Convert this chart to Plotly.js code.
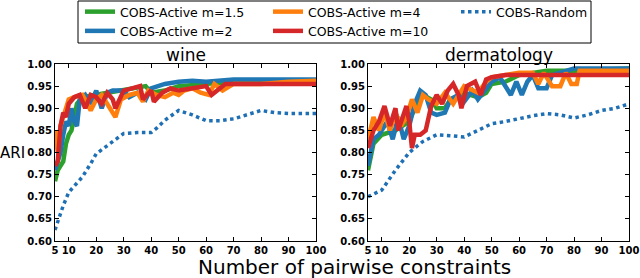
<!DOCTYPE html>
<html>
<head>
<meta charset="utf-8">
<script src="https://cdn.plot.ly/plotly-3.0.1.min.js"></script>
<style>html,body{margin:0;padding:0;background:#fff;}#chart{width:640px;height:278px;}</style>
</head>
<body>
<div id="chart"></div>
<script>
// ---- data ----
const xTicks = [5, 10, 20, 30, 40, 50, 60, 70, 80, 90, 100];
const yTicks = [0.60, 0.65, 0.70, 0.75, 0.80, 0.85, 0.90, 0.95, 1.00];
const seriesNames = ["COBS-Active m=1.5", "COBS-Active m=2", "COBS-Active m=4", "COBS-Active m=10", "COBS-Random"];
const panelTitles = ["wine", "dermatology"];

// wine
const wineGreenX = [5, 6, 7, 8, 9, 10, 11, 12, 13, 15, 20, 25, 30, 35, 38, 40, 45, 50, 60, 70, 100];
const wineGreenY = [0.735, 0.76, 0.77, 0.78, 0.82, 0.84, 0.85, 0.88, 0.91, 0.925, 0.93, 0.935, 0.94, 0.945, 0.95, 0.935, 0.94, 0.95, 0.955, 0.96, 0.962];
const wineBlueX = [5, 7, 8, 9, 10, 11, 12, 13, 14, 16, 18, 20, 22, 24, 26, 30, 32, 35, 38, 40, 45, 50, 55, 60, 70, 100];
const wineBlueY = [0.76, 0.80, 0.84, 0.87, 0.86, 0.90, 0.87, 0.86, 0.92, 0.93, 0.91, 0.94, 0.90, 0.935, 0.94, 0.94, 0.925, 0.935, 0.92, 0.945, 0.955, 0.96, 0.962, 0.96, 0.965, 0.965];
const wineOrangeX = [5, 6, 7, 8, 10, 12, 15, 18, 20, 22, 25, 27, 29, 32, 35, 37, 39, 42, 45, 48, 50, 52, 55, 58, 61, 63, 66, 70, 80, 90, 100];
const wineOrangeY = [0.85, 0.80, 0.86, 0.88, 0.92, 0.925, 0.93, 0.895, 0.92, 0.93, 0.90, 0.88, 0.92, 0.93, 0.935, 0.915, 0.94, 0.93, 0.925, 0.935, 0.93, 0.94, 0.945, 0.935, 0.93, 0.955, 0.94, 0.955, 0.955, 0.96, 0.962];
const wineRedX = [5, 6, 7, 8, 9, 10, 12, 14, 16, 18, 20, 22, 24, 26, 27, 30, 33, 36, 37, 40, 41, 44, 47, 50, 55, 60, 62, 65, 67, 70, 80, 90, 100];
const wineRedY = [0.77, 0.78, 0.86, 0.89, 0.88, 0.91, 0.925, 0.93, 0.90, 0.93, 0.925, 0.91, 0.935, 0.92, 0.90, 0.94, 0.945, 0.95, 0.92, 0.94, 0.915, 0.935, 0.945, 0.94, 0.945, 0.95, 0.93, 0.945, 0.955, 0.955, 0.955, 0.955, 0.955];
const wineRandomX = [5, 6, 7, 8, 10, 12, 15, 18, 20, 25, 28, 30, 35, 40, 42, 45, 50, 55, 60, 65, 70, 75, 80, 85, 90, 100];
const wineRandomY = [0.625, 0.645, 0.66, 0.68, 0.71, 0.725, 0.745, 0.775, 0.797, 0.82, 0.835, 0.843, 0.845, 0.845, 0.855, 0.873, 0.895, 0.885, 0.872, 0.872, 0.876, 0.885, 0.895, 0.89, 0.888, 0.888];

// dermatology
const dermGreenX = [5, 7, 10, 15, 20, 22, 25, 28, 30, 33, 35, 40, 45, 48, 50, 55, 60, 70, 80, 100];
const dermGreenY = [0.76, 0.82, 0.84, 0.85, 0.87, 0.90, 0.93, 0.92, 0.90, 0.90, 0.92, 0.935, 0.925, 0.935, 0.955, 0.96, 0.975, 0.985, 0.985, 0.99];
const dermBlueX = [5, 7, 9, 12, 14, 16, 18, 20, 22, 24, 26, 28, 30, 33, 35, 38, 40, 43, 45, 48, 50, 53, 55, 57, 59, 61, 63, 65, 67, 70, 72, 75, 80, 100];
const dermBlueY = [0.77, 0.83, 0.84, 0.87, 0.83, 0.88, 0.83, 0.86, 0.91, 0.94, 0.93, 0.89, 0.885, 0.89, 0.92, 0.93, 0.915, 0.94, 0.92, 0.945, 0.96, 0.97, 0.95, 0.93, 0.96, 0.93, 0.96, 0.975, 0.945, 0.945, 0.975, 0.98, 0.99, 0.99];
const dermOrangeX = [5, 7, 9, 11, 13, 15, 17, 19, 21, 23, 25, 27, 30, 33, 36, 40, 45, 48, 50, 55, 60, 65, 67, 69, 72, 75, 77, 79, 81, 82, 85, 100];
const dermOrangeY = [0.83, 0.88, 0.85, 0.89, 0.85, 0.89, 0.86, 0.88, 0.92, 0.89, 0.93, 0.92, 0.91, 0.935, 0.91, 0.95, 0.935, 0.96, 0.97, 0.975, 0.98, 0.98, 0.955, 0.98, 0.95, 0.95, 0.98, 0.955, 0.955, 0.985, 0.985, 0.985];
const dermRedX = [5, 7, 9, 11, 13, 15, 16, 18, 19, 20, 21, 22, 24, 26, 28, 30, 32, 34, 36, 38, 39, 41, 44, 46, 48, 50, 55, 60, 70, 100];
const dermRedY = [0.81, 0.85, 0.87, 0.905, 0.86, 0.90, 0.85, 0.89, 0.905, 0.87, 0.81, 0.84, 0.84, 0.85, 0.905, 0.93, 0.91, 0.94, 0.955, 0.93, 0.90, 0.95, 0.96, 0.93, 0.965, 0.97, 0.975, 0.975, 0.975, 0.975];
const dermRandomX = [5, 10, 15, 20, 25, 30, 35, 40, 45, 50, 55, 60, 65, 70, 75, 80, 85, 90, 95, 100];
const dermRandomY = [0.70, 0.715, 0.76, 0.80, 0.825, 0.84, 0.838, 0.835, 0.85, 0.865, 0.87, 0.877, 0.883, 0.888, 0.885, 0.878, 0.885, 0.895, 0.90, 0.91];

// ---- styling ----
const colors = ["#2ca02c", "#1f77b4", "#ff7f0e", "#d62728", "#1f6fb4"];
const ranks = [1, 4, 2, 5, 3];

function mk(x, y, i, ax, show) {
  return {
    x: x, y: y, type: "scatter", mode: "lines",
    name: seriesNames[i], legendgroup: "g" + i, showlegend: show, legendrank: ranks[i],
    xaxis: ax === 1 ? "x" : "x2", yaxis: ax === 1 ? "y" : "y2",
    line: i === 4 ? {color: colors[i], width: 3.5, dash: "dot"} : {color: colors[i], width: 4.5},
    hoverinfo: "skip"
  };
}

const traces = [
  mk(wineGreenX, wineGreenY, 0, 1, true),
  mk(wineBlueX, wineBlueY, 1, 1, true),
  mk(wineOrangeX, wineOrangeY, 2, 1, true),
  mk(wineRedX, wineRedY, 3, 1, true),
  mk(wineRandomX, wineRandomY, 4, 1, true),
  mk(dermGreenX, dermGreenY, 0, 2, false),
  mk(dermBlueX, dermBlueY, 1, 2, false),
  mk(dermOrangeX, dermOrangeY, 2, 2, false),
  mk(dermRedX, dermRedY, 3, 2, false),
  mk(dermRandomX, dermRandomY, 4, 2, false)
];

const tickFont = {family: "DejaVu Sans", size: 10, color: "#000", weight: "bold"};
function xax(dom, anchor) {
  return {domain: dom, anchor: anchor, range: [5, 100], tickmode: "array", tickvals: xTicks,
    ticktext: xTicks.map(String), ticks: "inside", ticklen: 4, tickcolor: "#000",
    showline: true, linecolor: "#000", linewidth: 1, mirror: "ticks", showgrid: false,
    zeroline: false, tickfont: tickFont, fixedrange: true};
}
function yax(anchor) {
  return {domain: [37 / 278, 214 / 278], anchor: anchor, range: [0.6, 1.0], tickmode: "array",
    tickvals: yTicks, ticktext: yTicks.map(v => v.toFixed(2)), ticks: "inside", ticklen: 4,
    tickcolor: "#000", showline: true, linecolor: "#000", linewidth: 1, mirror: "ticks",
    showgrid: false, zeroline: false, tickfont: tickFont, fixedrange: true};
}

const titleFont = {family: "DejaVu Sans", size: 17, color: "#000"};
const layout = {
  width: 640, height: 278,
  margin: {l: 0, r: 0, t: 0, b: 0, autoexpand: false},
  paper_bgcolor: "#fff", plot_bgcolor: "#fff",
  xaxis: xax([55 / 640, 316 / 640], "y"),
  yaxis: yax("x"),
  xaxis2: xax([368 / 640, 629 / 640], "y2"),
  yaxis2: yax("x2"),
  showlegend: true,
  legend: {orientation: "h", x: 80 / 640, xanchor: "left", y: 1 + 3 / 278, yanchor: "top",
    borderwidth: 0, bgcolor: "rgba(0,0,0,0)", entrywidth: 143, entrywidthmode: "pixels",
    font: {family: "DejaVu Sans", size: 12.5, color: "#000"}, tracegroupgap: 0, traceorder: "normal"},
  shapes: [
    {type: "rect", xref: "paper", yref: "paper", x0: 78 / 640, x1: 591 / 640, y0: 1 - 43 / 278, y1: 1 - 1 / 278,
     line: {color: "#000", width: 1}, fillcolor: "#fff", layer: "below"}
  ],
  annotations: [
    {text: panelTitles[0], xref: "paper", yref: "paper", x: 185.5 / 640, y: 211 / 278, xanchor: "center", yanchor: "bottom", showarrow: false, font: titleFont},
    {text: panelTitles[1], xref: "paper", yref: "paper", x: 498.5 / 640, y: 211 / 278, xanchor: "center", yanchor: "bottom", showarrow: false, font: titleFont},
    {text: "ARI", xref: "paper", yref: "paper", x: 0, xshift: -1, y: 125 / 278, xanchor: "left", yanchor: "middle", borderpad: 0, showarrow: false, font: {family: "DejaVu Sans", size: 15, color: "#000"}},
    {text: "Number of pairwise constraints", xref: "paper", yref: "paper", x: 354 / 640, y: -2 / 278, xanchor: "center", yanchor: "bottom", borderpad: 0, showarrow: false, font: {family: "DejaVu Sans", size: 20, color: "#000"}}
  ]
};

Plotly.newPlot("chart", traces, layout, {displayModeBar: false, staticPlot: true});
</script>
</body>
</html>
